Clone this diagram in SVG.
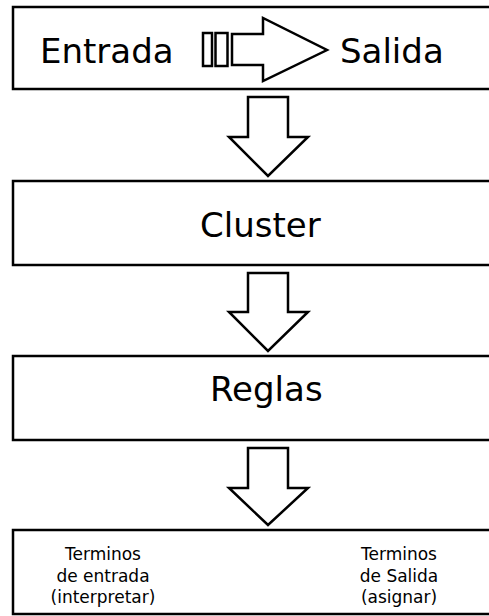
<svg xmlns="http://www.w3.org/2000/svg" width="489" height="616" viewBox="0 0 489 616">
  <style>
    .box { fill: #fff; stroke: #000; stroke-width: 2.5; }
    .arrow { fill: #fff; stroke: #000; stroke-width: 2.5; stroke-linejoin: miter; }
    .big { font-family: "DejaVu Sans", sans-serif; font-size: 34px; fill: #000; }
    .small { font-family: "DejaVu Sans", sans-serif; font-size: 17px; fill: #000; text-anchor: middle; }
  </style>
  <rect width="489" height="616" fill="#fff"/>

  <g id="entrada-salida">
    <rect class="box" x="13" y="7" width="490" height="82"/>
    <text class="big" x="40" y="63">Entrada</text>
    <rect class="arrow" x="203" y="33" width="9" height="33"/>
    <rect class="arrow" x="215.5" y="33" width="12" height="33"/>
    <polygon class="arrow" points="232,34 263,34 263,18 327,50 263,81 263,65 232,65"/>
    <text class="big" x="340" y="63">Salida</text>
  </g>

  <g id="cluster">
    <rect class="box" x="13" y="181" width="490" height="84"/>
    <text class="big" x="200" y="237">Cluster</text>
  </g>

  <g id="reglas">
    <rect class="box" x="13" y="356" width="490" height="84"/>
    <text class="big" x="210" y="401">Reglas</text>
  </g>

  <g id="terminos">
    <rect class="box" x="13" y="530" width="490" height="84"/>
    <text class="small" x="103" y="560">Terminos</text>
    <text class="small" x="103" y="582">de entrada</text>
    <text class="small" x="103" y="603">(interpretar)</text>
    <text class="small" x="399" y="560">Terminos</text>
    <text class="small" x="399" y="582">de Salida</text>
    <text class="small" x="399" y="603">(asignar)</text>
  </g>

  <g id="connectors">
    <polygon class="arrow" points="248,97 288,97 288,137 308,137 268,176 229,137 248,137"/>
    <polygon class="arrow" points="248,273 288,273 288,312 308,312 268,351 229,312 248,312"/>
    <polygon class="arrow" points="248,448 288,448 288,488 308,488 268,525 229,488 248,488"/>
  </g>
</svg>
